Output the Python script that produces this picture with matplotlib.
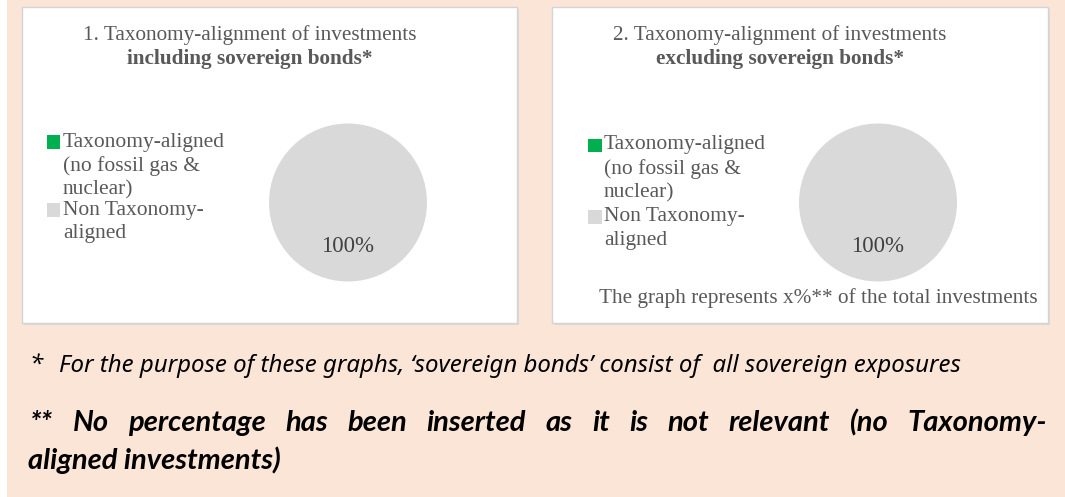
import matplotlib
matplotlib.use("Agg")
import matplotlib.pyplot as plt
from matplotlib.patches import Rectangle

W, H = 1065, 497

# data
slice_labels = ["Taxonomy-aligned (no fossil gas & nuclear)", "Non Taxonomy-aligned"]
slice_colors = ["#00B050", "#D9D9D9"]
incl_values = [0, 100]
excl_values = [0, 100]
titles = [("1. Taxonomy-alignment of investments", "including sovereign bonds*"),
          ("2. Taxonomy-alignment of investments", "excluding sovereign bonds*")]
legend_lines = [["Taxonomy-aligned", "(no fossil gas &", "nuclear)"],
                ["Non Taxonomy-", "aligned"]]
note_right = "The graph represents x%** of the total investments"
foot1 = "For the purpose of these graphs, \u2018sovereign bonds\u2019 consist of  all sovereign exposures"
foot2 = "** No percentage has been inserted as it is not relevant (no Taxonomy-"
foot3 = "aligned investments)"

SERIF = "Liberation Serif"
FOOT = "Noto Sans"
FOOT_BOLD = "Lato"
GREY_TXT = "#595959"

fig = plt.figure(figsize=(W / 100, H / 100), dpi=100)
fig.patch.set_facecolor("white")


def fx(x):
    return x / W


def fy(y):
    return 1 - y / H


def box(x0, y0, x1, y1, **kw):
    fig.patches.append(Rectangle((fx(x0), fy(y1)), fx(x1) - fx(x0), fy(y0) - fy(y1),
                                 transform=fig.transFigure, **kw))


# peach background
box(7, 0, W, H, facecolor="#FBE5D6", edgecolor="none", zorder=0)

panels = [(22, 517), (552, 1048)]
for x0, x1 in panels:
    box(x0 + 2, 9, x1 + 2, 325, facecolor="#D9D9D9", edgecolor="none", zorder=1)
    box(x0, 7, x1, 323, facecolor="white", edgecolor="#D4D4D4", linewidth=1.0, zorder=2)


def pie_panel(x0, values, title, leg_y, leg_x, sq_x):
    # pie centre sits 326 px right of the panel edge
    cx, cy, r = x0 + 326, 202.5, 79
    ax = fig.add_axes([fx(cx - r), fy(cy + r), 2 * r / W, 2 * r / H], zorder=3)
    ax.pie(values, colors=slice_colors, startangle=90, counterclock=False,
           radius=1, autopct=lambda p: f"{p:.0f}%" if p > 0 else "",
           pctdistance=0.56, wedgeprops={"linewidth": 0},
           textprops={"family": SERIF, "fontsize": 16.5, "color": "#404040"})
    ax.set_xlim(-1, 1)
    ax.set_ylim(-1, 1)
    ax.set_aspect("equal")
    ax.axis("off")

    tx = x0 + 228
    fig.text(fx(tx), fy(35), title[0], ha="center", va="center",
             family=SERIF, fontsize=15.3, color=GREY_TXT, zorder=5)
    fig.text(fx(tx), fy(59), title[1], ha="center", va="center",
             family=SERIF, fontsize=15.3, fontweight="bold", color=GREY_TXT, zorder=5)

    k = 0
    for i, lines in enumerate(legend_lines):
        box(sq_x, leg_y[k] - 6.5, sq_x + 13.5, leg_y[k] + 6.5,
            facecolor=slice_colors[i], edgecolor="none", zorder=5)
        for ln in lines:
            fig.text(fx(leg_x), fy(leg_y[k]), ln, ha="left", va="center",
                     family=SERIF, fontsize=15.5, color=GREY_TXT, zorder=5)
            k += 1


pie_panel(22, incl_values, titles[0], [142, 166, 190, 210, 233], 63, 46.5)
pie_panel(552, excl_values, titles[1], [145, 169, 193, 217, 241], 604, 588)

fig.text(fx(599), fy(298), note_right, ha="left", va="center",
         family=SERIF, fontsize=15.3, color=GREY_TXT, zorder=5)

# footnotes
fig.text(fx(30), fy(366), "*", ha="left", va="center", family=FOOT,
         style="italic", fontsize=17.3, color="black")
fig.text(fx(59), fy(366), foot1, ha="left", va="center", family=FOOT,
         style="italic", fontsize=17.3, color="black")

# justified bold line
renderer = fig.canvas.get_renderer()
words = foot2.split()
objs = [fig.text(0, fy(423), w_, ha="left", va="center", family=FOOT_BOLD, style="italic",
                 fontweight="bold", fontsize=21, color="black") for w_ in words]
widths = [o.get_window_extent(renderer).width for o in objs]
left, right = 30, 1047
gap = (right - left - sum(widths)) / (len(words) - 1)
x = left
for o, wd in zip(objs, widths):
    o.set_x(fx(x))
    x += wd + gap

fig.text(fx(28), fy(460), foot3, ha="left", va="center", family=FOOT_BOLD, style="italic",
         fontweight="bold", fontsize=21, color="black")

fig.savefig("out.png", dpi=100)
